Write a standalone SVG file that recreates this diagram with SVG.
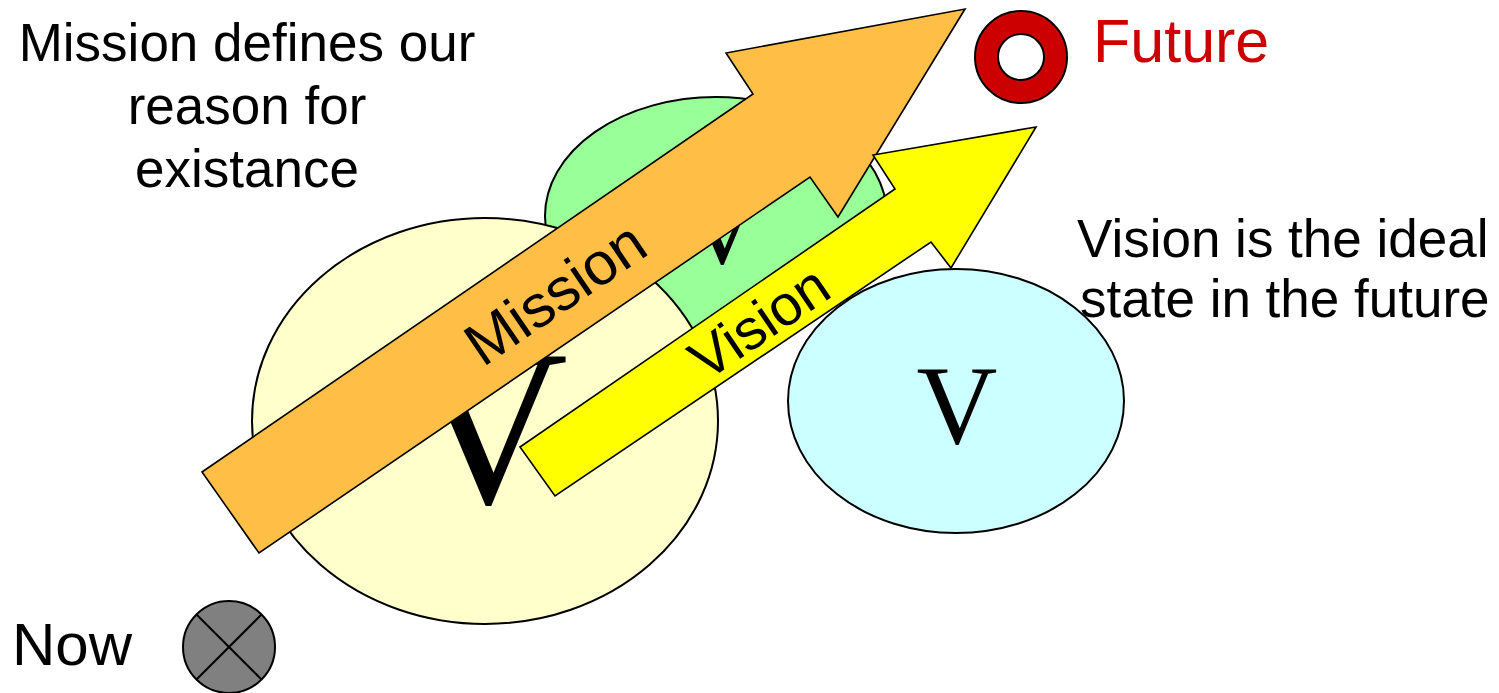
<svg xmlns="http://www.w3.org/2000/svg" width="1499" height="693" viewBox="0 0 1499 693">
<style>
.sh{stroke:#000;stroke-width:2}
.ar{stroke:#000;stroke-width:1.6;stroke-linejoin:miter}
.t{font-family:"Liberation Sans",Arial,sans-serif;fill:#000}
.v{font-family:"Liberation Serif","Times New Roman",serif;fill:#000;text-anchor:middle}
</style>
<rect width="1499" height="693" fill="#fff"/>
<g id="green-ellipse">
<ellipse class="sh" cx="716" cy="216" rx="171" ry="119" fill="#99FF99"/>
<text class="v" x="722" y="263" font-size="110">V</text>
</g>
<g id="yellow-ellipse">
<ellipse class="sh" cx="485" cy="421" rx="233" ry="203" fill="#FFFFCC"/>
<text class="v" x="488" y="503" font-size="222">V</text>
</g>
<g id="cyan-ellipse">
<ellipse class="sh" cx="956" cy="401" rx="168" ry="132" fill="#CCFFFF"/>
<text class="v" x="957" y="443" font-size="112">V</text>
</g>
<g id="connectors">
<g id="mission-arrow">
<polygon class="ar" fill="#FFBF47" points="202,472 753,94 726,53 965,9 838,217 810,177 259,553"/>
<text class="t" font-size="60" text-anchor="middle" transform="translate(555,293) rotate(-34.3)" y="21">Mission</text>
</g>
<g id="vision-arrow">
<polygon class="ar" fill="#FFFF00" points="520,447 895,189 873,155 1036,127 951,268 931,242 555,496"/>
<text class="t" font-size="57" text-anchor="middle" transform="translate(759,322) rotate(-34)" y="20">Vision</text>
</g>
</g>
<g id="now">
<circle class="sh" cx="229" cy="647" r="46" fill="#808080"/>
<line class="sh" x1="196.5" y1="614.5" x2="261.5" y2="679.5"/>
<line class="sh" x1="261.5" y1="614.5" x2="196.5" y2="679.5"/>
<text class="t" x="12" y="665" font-size="60">Now</text>
</g>
<g id="future">
<circle class="sh" cx="1021" cy="57" r="46" fill="#CC0000"/>
<circle class="sh" cx="1021" cy="57" r="23" fill="#FFFFFF"/>
<text class="t" x="1093" y="62" font-size="61" style="fill:#CC0000">Future</text>
</g>
<g id="mission-note">
<text class="t" font-size="53" text-anchor="middle"><tspan x="247" y="61">Mission defines our</tspan><tspan x="247" y="124">reason for</tspan><tspan x="247" y="187">existance</tspan></text>
</g>
<g id="vision-note">
<text class="t" font-size="53"><tspan x="1077" y="257">Vision is the ideal</tspan><tspan x="1080" y="317">state in the future</tspan></text>
</g>
</svg>
